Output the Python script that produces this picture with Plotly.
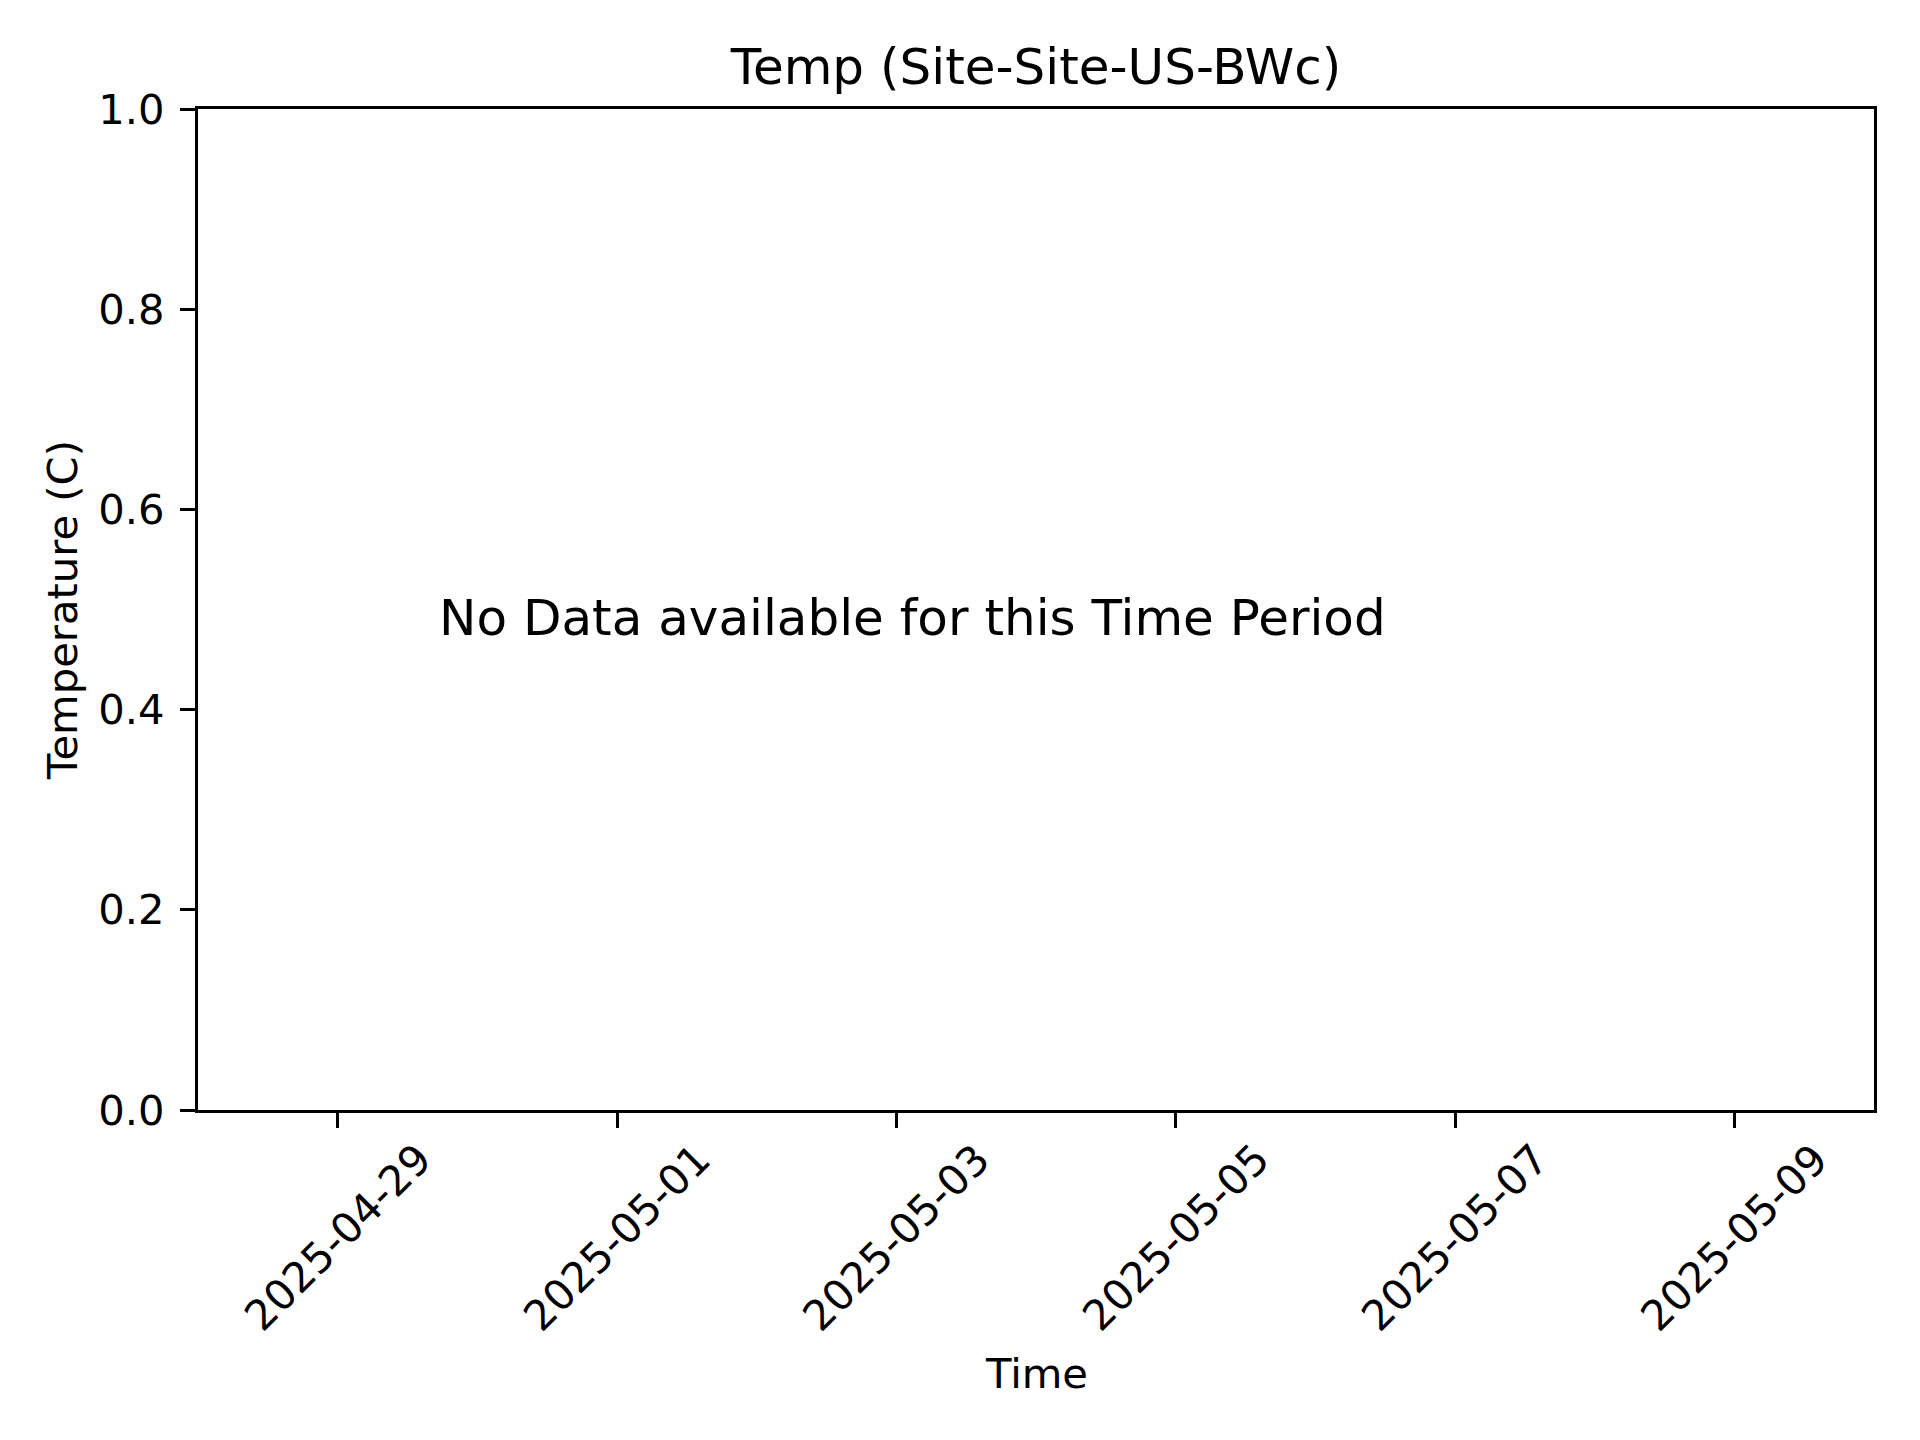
import plotly.graph_objects as go

# Data (empty: no observations for this period)
times = []
temps = []

x_range = ["2025-04-28", "2025-05-10"]
x_tick_dates = ["2025-04-29", "2025-05-01", "2025-05-03", "2025-05-05", "2025-05-07", "2025-05-09"]
x_tick_labels = ["2025-04-29", "2025-05-01", "2025-05-03", "2025-05-05", "2025-05-07", "2025-05-09"]
y_tick_vals = [0.0, 0.2, 0.4, 0.6, 0.8, 1.0]
y_tick_labels = ["0.0", "0.2", "0.4", "0.6", "0.8", "1.0"]

title_text = "Temp (Site-Site-US-BWc)"
x_title = "Time"
y_title = "Temperature (C)"
message = "No Data available for this Time Period"

FONT = "DejaVu Sans"
TICK_SIZE = 41.7
TITLE_SIZE = 50

fig = go.Figure()
fig.add_trace(go.Scatter(x=times, y=temps, mode="lines", showlegend=False))

# page body has an 8px margin; compensate so plot edges land at 198/1875 x 109/1110
fig.update_layout(
    width=1920,
    height=1440,
    margin=dict(l=190, r=54, t=101, b=338),
    paper_bgcolor="white",
    plot_bgcolor="white",
    font=dict(family=FONT, color="black", size=TICK_SIZE),
    showlegend=False,
    title=dict(
        text=title_text,
        font=dict(family=FONT, size=TITLE_SIZE, color="black"),
        x=0.5, xref="paper", xanchor="center",
        y=1 - 58 / 1440, yref="container", yanchor="middle",
    ),
)

fig.update_xaxes(
    type="date",
    range=x_range,
    tickvals=x_tick_dates,
    showticklabels=False,
    ticks="outside",
    ticklen=15,
    tickwidth=3,
    tickcolor="black",
    showline=True,
    linewidth=3,
    linecolor="black",
    mirror=True,
    showgrid=False,
    zeroline=False,
)

fig.update_yaxes(
    range=[0, 1],
    tickvals=y_tick_vals,
    ticktext=y_tick_labels,
    ticks="outside",
    ticklen=15,
    tickwidth=3,
    tickcolor="black",
    ticklabelstandoff=7,
    tickfont=dict(family=FONT, size=TICK_SIZE, color="black"),
    showline=True,
    linewidth=3,
    linecolor="black",
    mirror=True,
    showgrid=False,
    zeroline=False,
    title=dict(text=y_title, font=dict(family=FONT, size=TICK_SIZE, color="black"), standoff=8),
)

# Rotated x tick labels, centred under each tick (matplotlib style)
for d, lab in zip(x_tick_dates, x_tick_labels):
    fig.add_annotation(
        x=d, xref="x", y=0, yref="paper",
        text=lab, textangle=-45, showarrow=False,
        xanchor="center", yanchor="top", yshift=-22,
        font=dict(family=FONT, size=TICK_SIZE, color="black"),
    )

# x-axis title
fig.add_annotation(
    x=0.5, xref="paper", y=0, yref="paper",
    text=x_title, showarrow=False,
    xanchor="center", yanchor="middle", yshift=-263,
    font=dict(family=FONT, size=TICK_SIZE, color="black"),
)

# No-data message
fig.add_annotation(
    x=(437 - 198) / 1677, xref="paper", y=(1110 - 618) / 1001, yref="paper",
    text=message, showarrow=False,
    xanchor="left", yanchor="middle",
    font=dict(family=FONT, size=TITLE_SIZE, color="black"),
)

fig.write_html("out.html")
